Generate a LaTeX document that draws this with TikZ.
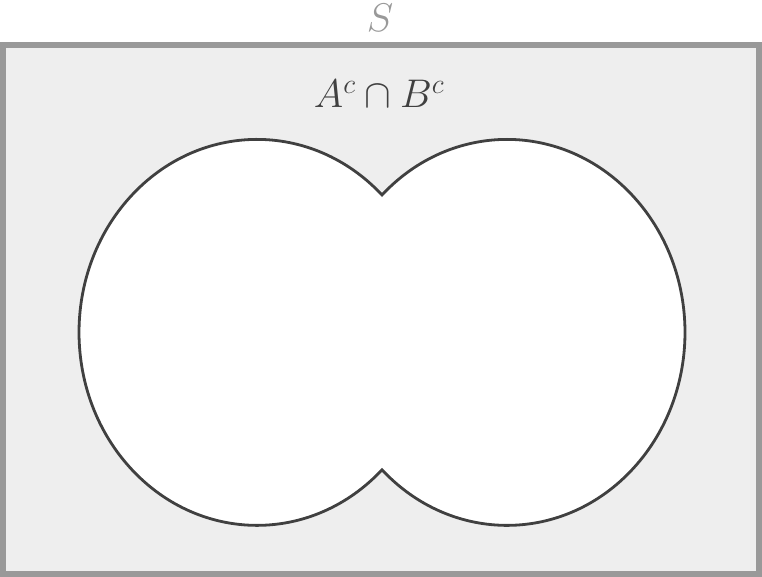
\RequirePackage{fix-cm}
\documentclass[tikz,border=0pt]{standalone}
\usepackage{amsmath}
\definecolor{bordergray}{HTML}{999999}
\definecolor{bgfill}{HTML}{EEEEEE}
\definecolor{darkline}{HTML}{404040}
\begin{document}
\begin{tikzpicture}[x=1pt,y=1pt,
  sample/.style={draw=bordergray,fill=bgfill,line width=6pt},
  union/.style={draw=darkline,fill=white,line width=2.8pt,line join=miter},
  lbl/.style={inner sep=0pt,anchor=base}]
\useasboundingbox (0,0) rectangle (762,577);
\draw[sample] (3,3) rectangle (758.5,532);
\draw[union] (382,382) arc[start angle=45.39,end angle=314.61,x radius=178,y radius=193]
  arc[start angle=225.39,end angle=494.61,x radius=178,y radius=193] -- cycle;
\node[lbl,text=bordergray,font=\fontsize{40}{46}\selectfont] (s) at (380,545) {$S$};
\node[lbl,text=darkline,font=\fontsize{40}{46}\selectfont] (ab) at (379,469) {$A^c\cap B^c$};
\end{tikzpicture}
\end{document}
